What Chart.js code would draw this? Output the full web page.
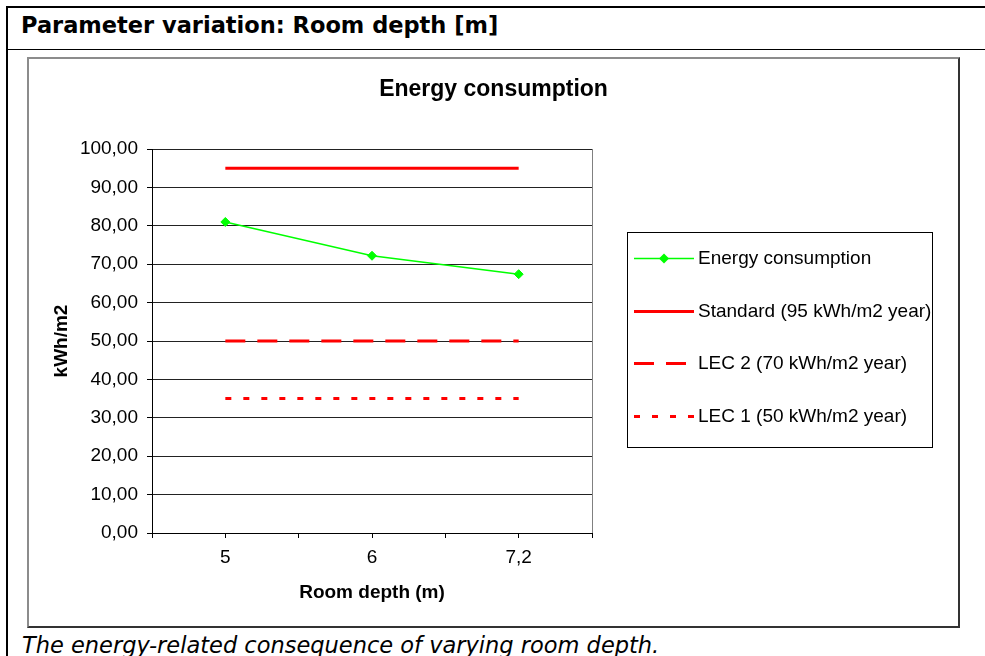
<!DOCTYPE html>
<html>
<head>
<meta charset="utf-8">
<script src="https://cdn.jsdelivr.net/npm/chart.js@4/dist/chart.umd.min.js"></script>
<style>
body { margin: 0; background: #fff; width: 985px; height: 656px; overflow: hidden; position: relative; }
#frame { position: absolute; left: 6px; top: 6px; width: 1100px; height: 700px; border-top: 2px solid #000; border-left: 2px solid #000; }
#rule { position: absolute; left: 8px; top: 49px; width: 1100px; height: 1px; background: #000; }
#header { position: absolute; left: 21px; top: 12px; font: bold 22.5px "DejaVu Sans"; line-height: 26px; color: #000; white-space: nowrap; }
#caption { position: absolute; left: 22px; top: 632px; font: italic 22.5px "DejaVu Sans"; line-height: 26px; color: #000; white-space: nowrap; }
#box { position: absolute; left: 27px; top: 57px; width: 929px; height: 567px; border: 2px solid #8c8c8c; border-right-color: #333; border-bottom-color: #333; }
#box canvas { display: block; }
</style>
</head>
<body>
<div id="frame"></div>
<div id="rule"></div>
<div id="header">Parameter variation: Room depth [m]</div>
<div id="box"><canvas id="chart" width="929" height="567"></canvas></div>
<div id="caption">The energy-related consequence of varying room depth.</div>
<script>
"use strict";

const chartTitle = "Energy consumption";
const xTitle = "Room depth (m)";
const yTitle = "kWh/m2";

const depthLabels = ["5", "6", "7,2"];
const energyUse = [81.0, 72.2, 67.4];
const standardLimit = [95, 95, 95];
const lec2Limit = [50, 50, 50];
const lec1Limit = [35, 35, 35];

const seriesLabels = [
	"Energy consumption",
	"Standard (95 kWh/m2 year)",
	"LEC 2 (70 kWh/m2 year)",
	"LEC 1 (50 kWh/m2 year)",
];

const fontFamily = "'Liberation Sans', Arial, sans-serif";


// each category sits in the middle of a two-unit slot
function getData(list) {
	return list.map((value, i) => ({ x: 2 * i + 1, y: value }));
}


const boxLegend = {
	id: "boxLegend",
	afterDraw(chart) {
		const ctx = chart.ctx;
		ctx.save();

		ctx.fillStyle = "#000";
		ctx.textAlign = "center";
		ctx.textBaseline = "middle";
		ctx.font = "bold 23px " + fontFamily;
		ctx.fillText(chartTitle, chart.width / 2, 31);

		ctx.strokeStyle = "#000";
		ctx.lineWidth = 1;
		ctx.strokeRect(598.5, 173.5, 305, 215);

		ctx.textAlign = "left";
		ctx.font = "19px " + fontFamily;
		chart.data.datasets.forEach((set, i) => {
			const y = Math.round(199 + i * 52.7) + 0.5;
			ctx.save();
			ctx.strokeStyle = set.borderColor;
			ctx.lineWidth = set.borderWidth;
			ctx.setLineDash(set.borderDash || []);
			ctx.beginPath();
			ctx.moveTo(605, y);
			ctx.lineTo(665, y);
			ctx.stroke();
			ctx.restore();
			if (set.pointRadius > 0) {
				const r = set.pointRadius + 0.5;
				ctx.fillStyle = set.pointBackgroundColor;
				ctx.beginPath();
				ctx.moveTo(635 - r, y);
				ctx.lineTo(635, y - r);
				ctx.lineTo(635 + r, y);
				ctx.lineTo(635, y + r);
				ctx.closePath();
				ctx.fill();
			}
			ctx.fillStyle = "#000";
			ctx.fillText(set.label, 669, y);
		});

		ctx.restore();
	}
};


const ctx = document.getElementById("chart").getContext("2d");

new Chart(ctx, {
	type: "line",
	data: {
		datasets: [
			{
				label: seriesLabels[0],
				data: getData(energyUse),
				borderColor: "#00ff00",
				backgroundColor: "#00ff00",
				borderWidth: 1.5,
				pointStyle: "rectRot",
				pointRadius: 4.5,
				pointBorderWidth: 1,
				pointBackgroundColor: "#00ff00",
				pointBorderColor: "#00ff00",
			},
			{
				label: seriesLabels[1],
				data: getData(standardLimit),
				borderColor: "#ff0000",
				borderWidth: 3,
				pointRadius: 0,
			},
			{
				label: seriesLabels[2],
				data: getData(lec2Limit),
				borderColor: "#ff0000",
				borderWidth: 3,
				borderDash: [20, 12],
				pointRadius: 0,
			},
			{
				label: seriesLabels[3],
				data: getData(lec1Limit),
				borderColor: "#ff0000",
				borderWidth: 3,
				borderDash: [6, 12],
				pointRadius: 0,
			},
		],
	},
	options: {
		responsive: false,
		animation: false,
		layout: {
			padding: { top: 90, right: 366, left: 0, bottom: 0 },
		},
		plugins: {
			legend: { display: false },
			title: { display: false },
			tooltip: { enabled: false },
		},
		scales: {
			x: {
				type: "linear",
				min: 0,
				max: 2 * depthLabels.length,
				afterFit: scale => { scale.height = 93; },
				ticks: {
					stepSize: 1,
					autoSkip: false,
					maxRotation: 0,
					color: "#000",
					padding: 8,
					font: { family: fontFamily, size: 19 },
					callback: value => value % 2 === 1 ? depthLabels[(value - 1) / 2] : "",
				},
				grid: {
					color: c => c.tick && c.tick.value === 2 * depthLabels.length ? "#808080" : "transparent",
					tickColor: "#000",
					tickLength: 5,
				},
				border: { color: "#000" },
				title: {
					display: true,
					text: xTitle,
					color: "#000",
					font: { family: fontFamily, size: 19, weight: "bold" },
					padding: { top: 0, bottom: 22 },
				},
			},
			y: {
				min: 0,
				max: 100,
				afterFit: scale => { scale.width = 123; },
				ticks: {
					stepSize: 10,
					color: "#000",
					padding: 9,
					font: { family: fontFamily, size: 19 },
					callback: value => value.toFixed(2).replace(".", ","),
				},
				grid: {
					color: "#222",
					tickColor: "#000",
					tickLength: 5,
				},
				border: { color: "#000" },
				title: {
					display: true,
					text: yTitle,
					color: "#000",
					font: { family: fontFamily, size: 19, weight: "bold" },
					padding: { top: 21, bottom: 0 },
				},
			},
		},
	},
	plugins: [boxLegend],
});
</script>
</body>
</html>
